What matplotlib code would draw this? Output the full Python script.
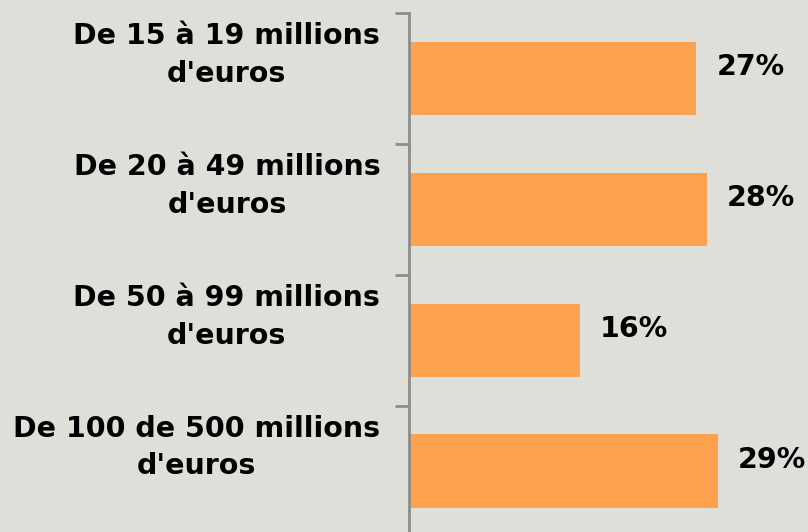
import matplotlib.pyplot as plt

# data
categories = ["De 15 à 19 millions\nd'euros", "De 20 à 49 millions\nd'euros",
              "De 50 à 99 millions\nd'euros", "De 100 de 500 millions\nd'euros"]
values = [27, 28, 16, 29]
value_labels = ["27%", "28%", "16%", "29%"]

bg = '#dfdfda'
bar_color = '#ffa24f'
axis_color = '#8c8c8c'

fig = plt.figure(figsize=(8.08, 5.32), dpi=100, facecolor=bg)
ax = fig.add_axes([409.5 / 808, 1 - 536.6 / 532, 1 - 409.5 / 808, (536.6 - 13) / 532])
ax.set_facecolor(bg)

pos = list(range(len(values)))
ax.barh(pos, values, height=0.56, color=bar_color, left=0, zorder=2)
ax.set_ylim(len(values) - 0.5, -0.5)
ax.set_xlim(0, 37.5)

# category boundary ticks
ax.set_yticks([p - 0.5 for p in pos])
ax.set_yticklabels([])
ax.tick_params(axis='y', length=10, width=2, color=axis_color, direction='out')
ax.set_xticks([])
for s in ['top', 'right', 'bottom']:
    ax.spines[s].set_visible(False)
ax.spines['left'].set_color(axis_color)
ax.spines['left'].set_linewidth(2)

for p, cat in zip(pos, categories):
    ax.annotate(cat, xy=(0, p), xytext=(-21, 17), textcoords='offset points',
                xycoords=('axes fraction', 'data'), ha='right', va='center',
                multialignment='center', fontsize=20.5, fontweight='bold',
                linespacing=1.45, annotation_clip=False)

for p, v, lab in zip(pos, values, value_labels):
    ax.annotate(lab, xy=(v, p), xytext=(14.5, 8), textcoords='offset points',
                ha='left', va='center', fontsize=20.5, fontweight='bold', annotation_clip=False)

fig.savefig('out.png', dpi=100, facecolor=bg)
